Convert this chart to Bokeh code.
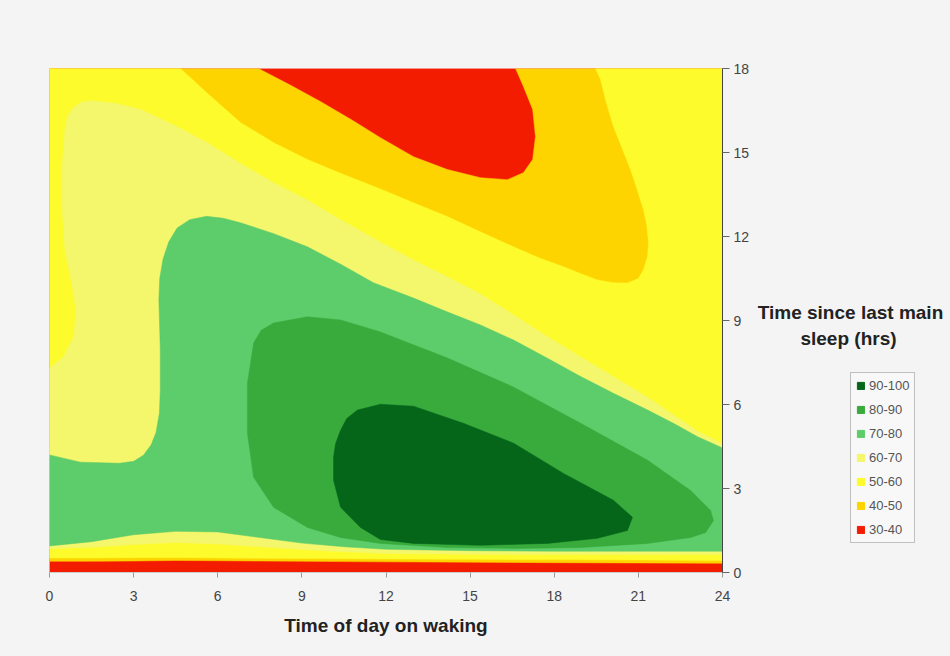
from bokeh.plotting import figure
from bokeh.layouts import row
from bokeh.models import Range1d, SingleIntervalTicker, Legend, LegendItem, Label
from bokeh.embed import file_html
from bokeh.resources import INLINE

# ---- data (hours) ----
levels = ["30-40", "40-50", "50-60", "60-70", "70-80", "80-90", "90-100"]
colors = ["#f41c00", "#fdd400", "#fdfb2b", "#f4f66c", "#5dcc6b", "#39ab3c", "#05661a"]
x_ticks_step = 3
y_ticks_step = 3
x_min, x_max = 0, 24
y_min, y_max = 0, 18

# contour 40 : red island touching the top edge
c40_top_x = [7.45, 8.6, 9.66, 10.8, 11.8, 12.98, 14.19, 15.37, 16.33, 16.9, 17.23, 17.33, 17.23, 16.9, 16.62]
c40_top_y = [18.0, 17.4, 16.82, 16.15, 15.53, 14.85, 14.39, 14.10, 14.03, 14.28, 14.75, 15.57, 16.54, 17.36, 18.0]

# contour 50 : orange lobe touching the top edge
c50_top_x = [4.67, 5.7, 6.81, 8.0, 9.2, 10.4, 11.8, 13.0, 14.19, 15.4, 16.55, 17.5, 18.33, 19.0, 19.54,
             20.1, 20.61, 21.0, 21.18, 21.33, 21.36, 21.3, 21.18, 20.95, 20.72, 20.4, 20.11, 19.85, 19.65, 19.47]
c50_top_y = [18.0, 17.05, 16.07, 15.35, 14.75, 14.25, 13.7, 13.2, 12.71, 12.15, 11.63, 11.22, 10.92, 10.65, 10.45,
             10.35, 10.34, 10.5, 10.81, 11.3, 11.8, 12.4, 12.96, 13.7, 14.39, 15.2, 15.93, 16.8, 17.61, 18.0]

# contour 60 : from the left edge, round the top band, to the right edge
c60_x = [0.0, 0.5, 0.85, 0.95, 0.8, 0.55, 0.45, 0.45, 0.55, 0.65, 0.85, 1.15, 1.5, 2.4, 3.25, 4.4, 5.63, 6.8,
         7.99, 9.2, 10.38, 11.8, 13.0, 14.2, 15.37, 16.55, 17.8, 18.94, 20.1, 21.33, 22.3, 23.11, 24.0]
c60_y = [7.3, 7.7, 8.4, 9.3, 10.3, 11.5, 13.0, 14.5, 15.8, 16.3, 16.6, 16.8, 16.85, 16.75, 16.54, 16.0, 15.35, 14.62,
         13.92, 13.3, 12.6, 11.8, 11.15, 10.55, 9.95, 9.2, 8.4, 7.7, 7.0, 6.26, 5.6, 5.05, 4.6]

# contour 70 : from the left edge, round the green bump, to the right edge
c70_x = [0.0, 1.1, 2.5, 3.0, 3.35, 3.62, 3.8, 3.92, 3.95, 3.95, 3.9, 3.93, 4.05, 4.25, 4.55, 5.0, 5.6, 6.2,
         6.81, 8.0, 9.2, 10.4, 11.55, 12.98, 14.2, 15.37, 16.55, 17.76, 18.94, 20.11, 21.33, 22.3, 23.11, 24.0]
c70_y = [4.2, 3.94, 3.9, 3.97, 4.19, 4.55, 5.0, 5.7, 6.5, 8.0, 9.74, 10.5, 11.2, 11.8, 12.3, 12.6, 12.72, 12.65,
         12.49, 12.1, 11.63, 11.0, 10.35, 9.8, 9.3, 8.84, 8.3, 7.65, 7.0, 6.4, 5.8, 5.3, 4.85, 4.45]

# contour 80 : closed loop
c80_x = [7.99, 9.2, 10.38, 11.8, 14.19, 16.55, 18.94, 21.33, 22.86, 23.57, 23.68, 23.4, 22.86, 21.33, 18.94,
         16.55, 14.19, 11.8, 10.38, 9.2, 7.99, 7.28, 7.06, 7.06, 7.28, 7.55]
c80_y = [8.91, 9.13, 9.02, 8.59, 7.66, 6.62, 5.33, 4.01, 2.93, 2.22, 1.86, 1.43, 1.25, 1.04, 0.89,
         0.86, 0.89, 1.04, 1.25, 1.61, 2.33, 3.40, 4.97, 6.76, 8.20, 8.65]

# contour 90 : closed loop
c90_x = [10.13, 10.2, 10.38, 10.6, 10.98, 11.8, 12.98, 14.76, 16.55, 18.33, 20.11, 20.79, 20.61, 19.54, 17.76,
         15.37, 12.98, 11.8, 11.09, 10.38, 10.13]
c90_y = [4.12, 4.6, 5.08, 5.5, 5.80, 6.01, 5.94, 5.33, 4.62, 3.54, 2.58, 1.97, 1.50, 1.22, 1.04,
         0.97, 1.04, 1.18, 1.61, 2.33, 3.29]

# thin bands along the bottom (just after waking)
bot_x = [0, 1.5, 3, 4.5, 6, 7.5, 9, 10.5, 12, 15, 18, 21, 24]
c70_bot = [0.95, 1.1, 1.35, 1.47, 1.45, 1.25, 1.05, 0.92, 0.83, 0.78, 0.76, 0.76, 0.76]
c60_bot = [0.85, 0.9, 1.0, 1.07, 1.02, 0.92, 0.82, 0.74, 0.68, 0.65, 0.64, 0.64, 0.64]
c50_bot = [0.52, 0.52, 0.53, 0.54, 0.52, 0.51, 0.5, 0.49, 0.48, 0.47, 0.46, 0.45, 0.43]
c40_bot = [0.40, 0.40, 0.41, 0.43, 0.42, 0.41, 0.40, 0.39, 0.38, 0.37, 0.35, 0.34, 0.33]

x_title = "Time of day on waking"
y_title_lines = ["Time since last main", "sleep (hrs)"]

# ---- build filled regions (superlevel sets painted on top of one another) ----
regions = [
    ([x_min, x_max, x_max, x_min], [y_min, y_min, y_max, y_max]),
    (bot_x + [x_max] + c40_top_x[::-1] + [x_min], c40_bot + [y_max] + c40_top_y[::-1] + [y_max]),
    (bot_x + [x_max] + c50_top_x[::-1] + [x_min], c50_bot + [y_max] + c50_top_y[::-1] + [y_max]),
    (bot_x + c60_x[::-1], c60_bot + c60_y[::-1]),
    (bot_x + c70_x[::-1], c70_bot + c70_y[::-1]),
    (c80_x, c80_y),
    (c90_x, c90_y),
]

FONT = "Liberation Sans"
BG = "#f4f4f4"
p = figure(width=754, height=656, x_range=Range1d(x_min, x_max), y_range=Range1d(y_min, y_max),
           output_backend="svg", toolbar_location=None, y_axis_location="right",
           min_border_left=49, min_border_right=32, min_border_top=68, min_border_bottom=84)
p.background_fill_color = BG
p.border_fill_color = BG
p.outline_line_color = None
p.grid.visible = False

for (xs, ys), col in zip(regions, colors):
    p.patch(xs, ys, fill_color=col, line_color=col, line_width=0.5)

# axes
p.xaxis.ticker = SingleIntervalTicker(interval=x_ticks_step)
p.yaxis.ticker = SingleIntervalTicker(interval=y_ticks_step)
for ax in (p.xaxis, p.yaxis):
    ax.minor_tick_line_color = None
    ax.major_tick_in = 0
    ax.major_label_text_font = FONT
    ax.major_label_text_font_size = "14px"
    ax.major_label_text_color = "#444444"
p.xaxis.axis_line_color = "#cccccc"
p.xaxis.major_tick_line_color = "#999999"
p.xaxis.major_tick_out = 5
p.xaxis.major_label_standoff = 13
p.xaxis.axis_label = x_title
p.xaxis.axis_label_text_font = FONT
p.xaxis.axis_label_text_font_size = "19px"
p.xaxis.axis_label_text_font_style = "bold"
p.xaxis.axis_label_text_color = "#222222"
p.xaxis.axis_label_standoff = 11
p.yaxis.axis_line_color = "#444444"
p.yaxis.major_tick_line_color = "#666666"
p.yaxis.major_tick_out = 7
p.yaxis.major_label_standoff = 4

# ---- side panel: y-axis title and legend (its frame is aligned with the main frame) ----
p2 = figure(width=196, height=656, x_range=Range1d(0, 1), y_range=Range1d(0, 1),
            output_backend="svg", toolbar_location=None, x_axis_location=None, y_axis_location=None,
            min_border_left=0, min_border_right=0, min_border_top=68, min_border_bottom=84)
p2.background_fill_color = BG
p2.border_fill_color = BG
p2.outline_line_color = None
p2.grid.visible = False

for txt, xx, yy in ((y_title_lines[0], 96, 260), (y_title_lines[1], 94, 234)):
    p2.add_layout(Label(x=xx, y=yy, x_units="screen", y_units="screen", text=txt,
                        text_align="center", text_baseline="middle", text_font=FONT,
                        text_font_size="19px", text_font_style="bold", text_color="#222222"))

nan = float("nan")
swatches = [p2.quad(left=[nan], right=[nan], top=[nan], bottom=[nan], fill_color=col, line_color=col)
            for col in colors]
items = [LegendItem(label=lab, renderers=[r]) for lab, r in zip(levels[::-1], swatches[::-1])]
legend = Legend(items=items, location=(96, 29), padding=5, spacing=9, margin=0,
                glyph_width=9, glyph_height=9, label_height=13, label_standoff=4,
                label_text_font=FONT, label_text_font_size="13px", label_text_color="#555555",
                border_line_color="#888888", background_fill_color="#f8f8f8", background_fill_alpha=1)
p2.add_layout(legend)

layout = row(p, p2, styles={"background-color": BG})
open("out.html", "w").write(file_html(layout, INLINE))
